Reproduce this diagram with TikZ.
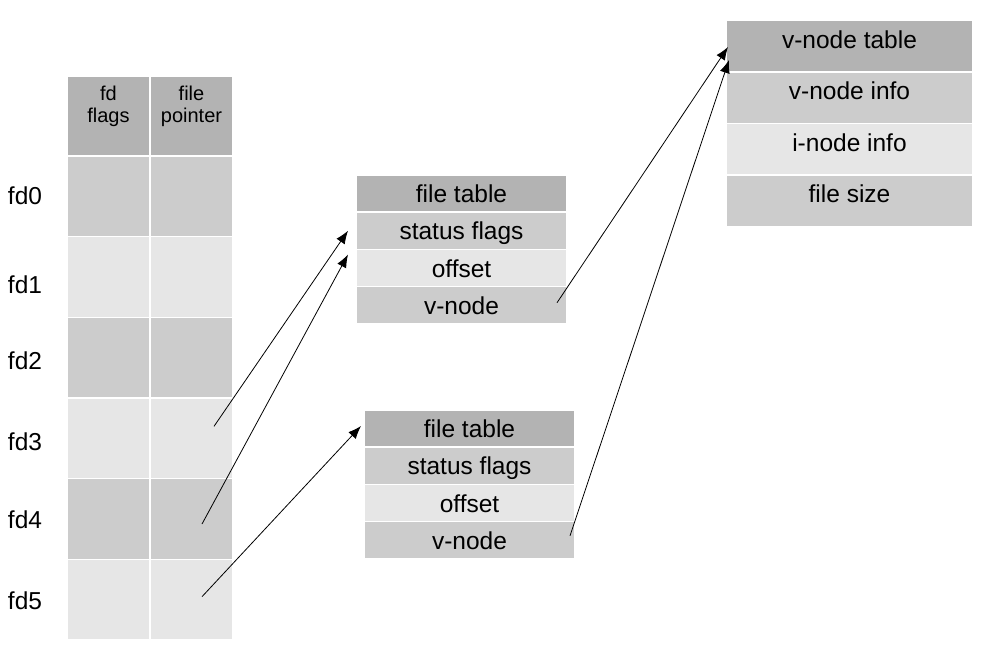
\documentclass[tikz,border=0pt]{standalone}
\usepackage{fontspec}
\setmainfont{Liberation Sans}
\usetikzlibrary{positioning,arrows.meta}
\definecolor{hdrgray}{HTML}{B3B3B3}
\definecolor{midgray}{HTML}{CCCCCC}
\definecolor{ltgray}{HTML}{E6E6E6}

\begin{document}
\begin{tikzpicture}[x=1pt,y=-1pt]

\tikzset{>={Latex[width=10pt,length=13pt]}}
\tikzset{cell/.style={rectangle,draw=white,line width=1.5pt,outer sep=0pt,inner sep=0pt,minimum width=83pt,minimum height=80.67pt},
hdrlbl/.style={anchor=north,align=center,inner sep=0pt,yshift=-10pt,font=\fontsize{20}{22}\selectfont},
ftrow/.style={rectangle,draw=white,line width=1.5pt,outer sep=0pt,inner sep=0pt,minimum width=211pt,minimum height=37.25pt,text height=20pt,text depth=2pt,font=\fontsize{24.5}{28}\selectfont},
vnrow/.style={rectangle,draw=white,line width=1.5pt,outer sep=0pt,inner sep=0pt,minimum width=247pt,minimum height=51.5pt,text height=16pt,text depth=12pt,font=\fontsize{24.5}{28}\selectfont},
fdlbl/.style={inner sep=0pt,font=\fontsize{24.5}{28}\selectfont},
ptr/.style={->,line width=0.8pt}}

\useasboundingbox (0,0) rectangle (985,653);

% descriptor table
\node[cell,fill=hdrgray,minimum height=80pt,label={[hdrlbl]north:fd\\flags}] (fdhd1) at (108.5,116) {};
\node[cell,fill=hdrgray,minimum height=80pt,right=0pt of fdhd1,label={[hdrlbl]north:file\\pointer}] (fdhd2) {};

\node[cell,fill=midgray,below=0pt of fdhd1] (fd0a) {};
\node[cell,fill=midgray,below=0pt of fdhd2] (fd0b) {};
\node[cell,fill=ltgray,below=0pt of fd0a] (fd1a) {};
\node[cell,fill=ltgray,below=0pt of fd0b] (fd1b) {};
\node[cell,fill=midgray,below=0pt of fd1a] (fd2a) {};
\node[cell,fill=midgray,below=0pt of fd1b] (fd2b) {};
\node[cell,fill=ltgray,below=0pt of fd2a] (fd3a) {};
\node[cell,fill=ltgray,below=0pt of fd2b] (fd3b) {};
\node[cell,fill=midgray,below=0pt of fd3a] (fd4a) {};
\node[cell,fill=midgray,below=0pt of fd3b] (fd4b) {};
\node[cell,fill=ltgray,below=0pt of fd4a] (fd5a) {};
\node[cell,fill=ltgray,below=0pt of fd4b] (fd5b) {};

\node[fdlbl] (fdl0) at (25,196) {fd0};
\node[fdlbl] (fdl1) at (25,285) {fd1};
\node[fdlbl] (fdl2) at (25,361) {fd2};
\node[fdlbl] (fdl3) at (25,442) {fd3};
\node[fdlbl] (fdl4) at (25,520) {fd4};
\node[fdlbl] (fdl5) at (25,601) {fd5};

%===================================================================
\node[ftrow,fill=hdrgray] (ft1h) at (461.5,193.5) {file table};
\node[ftrow,fill=midgray,below=0pt of ft1h] (ft1s) {status flags};
\node[ftrow,fill=ltgray,below=0pt of ft1s] (ft1o) {offset};
\node[ftrow,fill=midgray,below=0pt of ft1o] (ft1v) {v-node};

\node[ftrow,fill=hdrgray] (ft2h) at (469.5,428.5) {file table};
\node[ftrow,fill=midgray,below=0pt of ft2h] (ft2s) {status flags};
\node[ftrow,fill=ltgray,below=0pt of ft2s] (ft2o) {offset};
\node[ftrow,fill=midgray,below=0pt of ft2o] (ft2v) {v-node};

%===================================================================
\node[vnrow,fill=hdrgray] (vnt) at (849.5,46) {v-node table};
\node[vnrow,fill=midgray,below=0pt of vnt] (vni) {v-node info};
\node[vnrow,fill=ltgray,below=0pt of vni] (ini) {i-node info};
\node[vnrow,fill=midgray,below=0pt of ini] (fsz) {file size};

% pointers
\coordinate (fd3ptr) at ([shift={(22.5,-12)}]fd3b.center);
\coordinate (fd4ptr) at ([shift={(10.5,5)}]fd4b.center);
\coordinate (fd5ptr) at ([shift={(10.5,-3)}]fd5b.center);
\coordinate (ft1ptr) at ([shift={(95.5,-2.5)}]ft1v.center);
\coordinate (ft2ptr) at ([shift={(100.5,-4.5)}]ft2v.center);

\draw[ptr] (fd3ptr)--([xshift=-8pt]ft1s.west);
\draw[ptr] (fd4ptr)--([shift={(-8,-13.5)}]ft1o.west);
\draw[ptr] (fd5ptr)--([shift={(-3,-2.5)}]ft2h.west);
\draw[ptr] (ft1ptr)--([shift={(2,1)}]vnt.west);
\draw[ptr] (ft2ptr)--([shift={(3,14)}]vnt.west);
\end{tikzpicture}
\end{document}
